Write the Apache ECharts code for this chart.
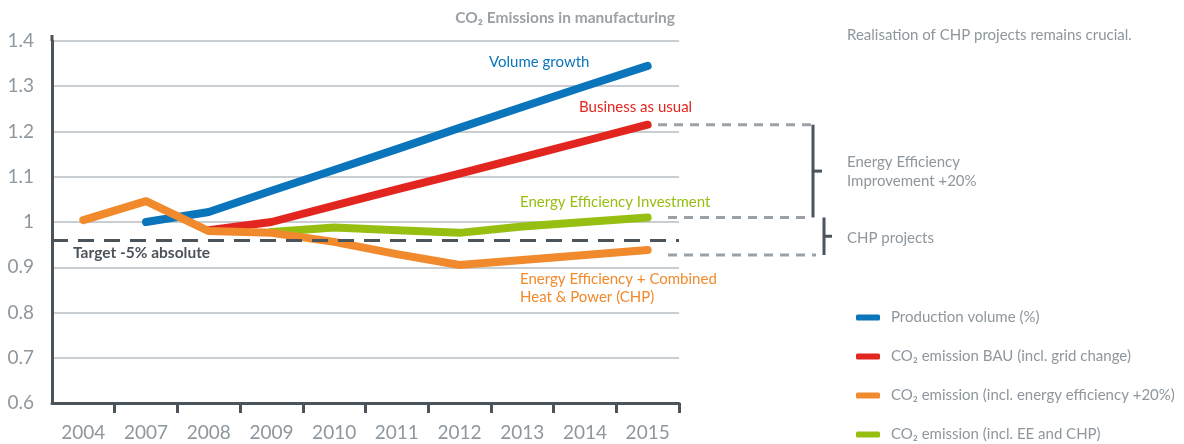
<!DOCTYPE html>
<html>
<head>
<meta charset="utf-8">
<title>CO2 Emissions in manufacturing</title>
<script src="https://cdn.jsdelivr.net/npm/echarts@6/dist/echarts.min.js"></script>
<style>
  html, body { margin: 0; padding: 0; background: #ffffff; }
  #chart { width: 1184px; height: 444px; }
</style>
</head>
<body>
<div id="chart"></div>
<script>
// data
const years = ['2004', '2007', '2008', '2009', '2010', '2011', '2012', '2013', '2014', '2015']
const productionVolume = [null, 1.0, 1.022, 1.069, 1.115, 1.161, 1.208, 1.254, 1.3, 1.345]
const emissionBAU = [null, null, 0.982, 1.0, 1.036, 1.072, 1.107, 1.143, 1.179, 1.215]
const emissionEE = [1.004, 1.046, 0.98, 0.976, 0.956, 0.929, 0.905, 0.916, 0.927, 0.938]
const emissionEECHP = [null, null, null, 0.978, 0.988, 0.982, 0.976, 0.99, 1.0, 1.01]
const targetLevel = 0.962
// levels of the dashed guides on the right: BAU end, EE+CHP end, EE end
const guideLevels = [1.215, 1.01, 0.927]

const seriesNames = [
  'Production volume (%)',
  'CO₂ emission BAU (incl. grid change)',
  'CO₂ emission (incl. energy efficiency +20%)',
  'CO₂ emission (incl. EE and CHP)'
]

const BLUE = '#0b75bc'
const RED = '#e3251f'
const ORANGE = '#f18a2d'
const GREEN = '#96bf12'
const DARK = '#4b535b'
const GREY_TEXT = '#8e979e'
const GRID = '#c9ced3'
const FONT = 'Lato, "Open Sans", sans-serif'

const chart = echarts.init(document.getElementById('chart'))

const lineSeries = (name, data, color, z) => ({
  name,
  type: 'line',
  data,
  z,
  color,
  showSymbol: false,
  symbol: 'none',
  lineStyle: { color, width: 8, cap: 'round', join: 'round' },
  animation: false
})

const option = {
  animation: false,
  backgroundColor: '#ffffff',
  textStyle: { fontFamily: FONT },
  grid: { left: 52, right: 505, top: 41, bottom: 41, containLabel: false },
  legend: {
    orient: 'vertical',
    left: 856,
    top: 310,
    height: 134,
    padding: 0,
    itemWidth: 24,
    itemHeight: 6,
    itemGap: 24,
    icon: 'roundRect',
    data: seriesNames,
    textStyle: { color: GREY_TEXT, fontSize: 15, fontFamily: FONT, padding: [0, 0, 0, 6] }
  },
  xAxis: {
    type: 'category',
    data: years,
    boundaryGap: true,
    axisLine: { lineStyle: { color: DARK, width: 3 } },
    // no tick at the origin, the y axis is there
    axisTick: { show: true, length: 10, interval: (index) => index !== 0, lineStyle: { color: DARK, width: 3 } },
    axisLabel: { color: GREY_TEXT, fontSize: 19, margin: 20, fontFamily: FONT },
    splitLine: { show: false }
  },
  yAxis: {
    type: 'value',
    min: 0.6,
    max: 1.4,
    interval: 0.1,
    axisLine: { show: true, lineStyle: { color: DARK, width: 3 } },
    axisTick: { show: false },
    axisLabel: { color: GREY_TEXT, fontSize: 19, margin: 18, fontFamily: FONT },
    splitLine: { lineStyle: { color: GRID, width: 2 } }
  },
  series: [
    lineSeries(seriesNames[0], productionVolume, BLUE, 3),
    lineSeries(seriesNames[1], emissionBAU, RED, 3),
    {
      ...lineSeries(seriesNames[3], emissionEECHP, GREEN, 3),
      markLine: {
        silent: true,
        symbol: 'none',
        label: { show: false },
        lineStyle: { color: DARK, width: 3, type: [16, 10] },
        data: [{ yAxis: targetLevel }]
      }
    },
    lineSeries(seriesNames[2], emissionEE, ORANGE, 4)
  ]
}

chart.setOption(option)

// annotations, placed from the axis scale
const py = v => chart.convertToPixel({ yAxisIndex: 0 }, v)

const txt = (x, y, text, color, extra) => ({
  type: 'text',
  x,
  y,
  silent: true,
  style: Object.assign({ text, fill: color, font: '15px ' + FONT, textVerticalAlign: 'middle' }, extra || {})
})

const seg = (x1, y1, x2, y2, color, dash) => ({
  type: 'line',
  silent: true,
  shape: { x1, y1, x2, y2 },
  style: { stroke: color, lineWidth: 3, lineDash: dash || null }
})

const yBau = py(guideLevels[0])
const yChp = py(guideLevels[1])
const yEe = py(guideLevels[2])

chart.setOption({
  graphic: [
    txt(675, 18, 'CO₂ Emissions in manufacturing', '#9aa1a7', { font: 'bold 15.5px ' + FONT, textAlign: 'right' }),
    txt(847, 35, 'Realisation of CHP projects remains crucial.', GREY_TEXT),
    txt(489, 62, 'Volume growth', BLUE),
    txt(579, 107, 'Business as usual', RED),
    txt(520, 202, 'Energy Efficiency Investment', GREEN),
    txt(520, 279, 'Energy Efficiency + Combined', ORANGE),
    txt(520, 297, 'Heat & Power (CHP)', ORANGE),
    txt(73, 253, 'Target -5% absolute', DARK, { font: 'bold 15.5px ' + FONT }),
    txt(847, 162, 'Energy Efficiency', GREY_TEXT),
    txt(847, 181, 'Improvement +20%', GREY_TEXT),
    txt(847, 238, 'CHP projects', GREY_TEXT),
    // dashed guides
    seg(658, yBau, 812, yBau, '#9aa1a7', [9, 7]),
    seg(668, yChp, 812, yChp, '#9aa1a7', [9, 7]),
    seg(668, yEe, 816, yEe, '#9aa1a7', [9, 7]),
    // brackets
    seg(813, yBau, 813, yChp, DARK),
    seg(813, (yBau + yChp) / 2, 822, (yBau + yChp) / 2, DARK),
    seg(824, yChp, 824, yEe, DARK),
    seg(824, (yChp + yEe) / 2, 832, (yChp + yEe) / 2, DARK),
    // axis line runs a little above the top gridline
    seg(52, py(1.4) - 6, 52, py(1.4), DARK)
  ]
})

window.addEventListener('resize', () => chart.resize())
</script>
</body>
</html>
